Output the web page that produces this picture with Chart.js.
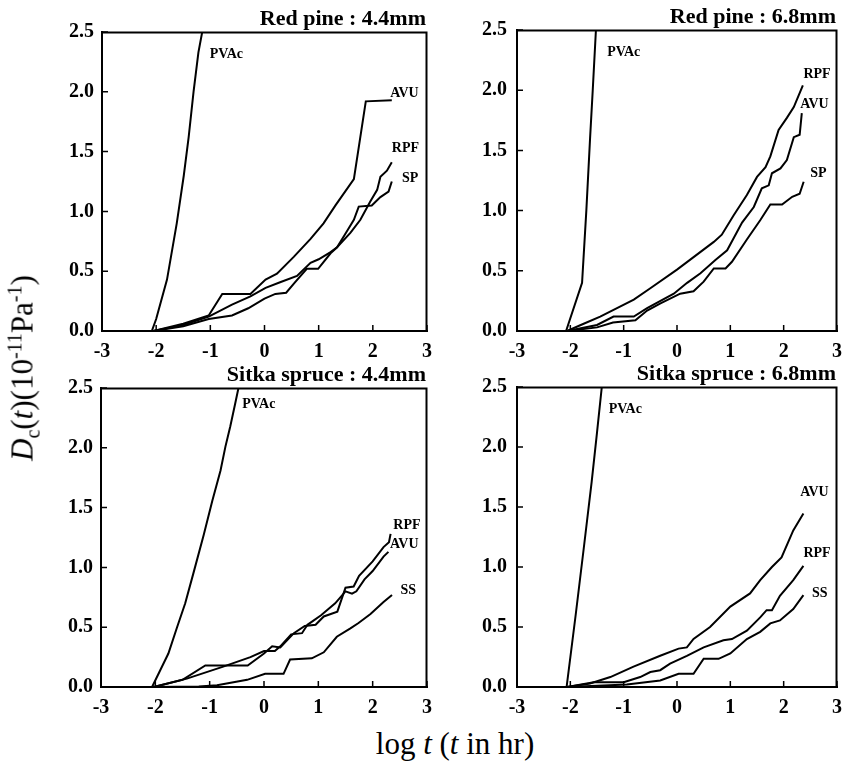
<!DOCTYPE html>
<html>
<head>
<meta charset="utf-8">
<script src="https://cdn.jsdelivr.net/npm/chart.js@4.4.0/dist/chart.umd.min.js"></script>
<style>
  html, body { margin: 0; padding: 0; background: #fff; }
  #page { position: relative; width: 845px; height: 768px; overflow: hidden; }
  canvas { position: absolute; }
  .axis-title { position: absolute; font-family: "Liberation Serif", "Times New Roman", serif; font-size: 31px; color: #000; white-space: nowrap; line-height: 1; }
  .axis-title sub, .axis-title sup { font-size: 20px; line-height: 0; }
</style>
</head>
<body>
<div id="page">
  <canvas id="p1" width="400" height="362" style="left:40px;top:0px"></canvas>
  <canvas id="p2" width="390" height="362" style="left:455px;top:0px"></canvas>
  <canvas id="p3" width="400" height="360" style="left:40px;top:360px"></canvas>
  <canvas id="p4" width="390" height="360" style="left:455px;top:360px"></canvas>
  <div class="axis-title" id="ytitle" style="left:22px;top:368px;transform:translate(-50%,-50%) rotate(-90deg)"><i>D</i><sub>c</sub>(<i>t</i>)(10<sup>-11</sup>Pa<sup>-1</sup>)</div>
  <div class="axis-title" style="left:455px;top:743px;transform:translate(-50%,-50%)">log <i>t</i> (<i>t</i> in hr)</div>
</div>
<script>
// ---- axis ticks ----
const xTicks = [-3, -2, -1, 0, 1, 2, 3];
const yTicks = [0, 0.5, 1.0, 1.5, 2.0, 2.5];

// ---- Red pine : 4.4mm  ([log t, Dc]) ----
const rp44Pvac = [[-2.08,0],[-2.0,0.1],[-1.8,0.43],[-1.62,0.9],[-1.49,1.3],[-1.40,1.62],[-1.31,2.0],[-1.22,2.33],[-1.15,2.5]];
const rp44Avu = [[-2.05,0],[-1.5,0.06],[-1.03,0.13],[-0.78,0.31],[-0.26,0.31],[0.02,0.43],[0.23,0.48],[0.54,0.62],[0.85,0.77],[1.09,0.90],[1.31,1.05],[1.65,1.27],[1.87,1.92],[2.35,1.93]];
const rp44Rpf = [[-2.05,0],[-1.5,0.05],[-1.03,0.12],[-0.6,0.22],[-0.26,0.29],[0.02,0.36],[0.3,0.41],[0.6,0.46],[0.85,0.57],[1.0,0.60],[1.22,0.66],[1.34,0.70],[1.585,0.82],[1.77,0.93],[1.95,1.08],[2.08,1.18],[2.14,1.29],[2.26,1.34],[2.35,1.41]];
const rp44Sp = [[-2.05,0],[-1.5,0.04],[-1.03,0.10],[-0.6,0.13],[-0.3,0.19],[0,0.27],[0.2,0.31],[0.4,0.32],[0.55,0.40],[0.78,0.52],[0.99,0.52],[1.22,0.65],[1.34,0.70],[1.53,0.84],[1.65,0.93],[1.74,1.04],[1.98,1.05],[2.14,1.12],[2.29,1.165],[2.35,1.25]];

// ---- Red pine : 6.8mm ----
const rp68Pvac = [[-2.08,0],[-1.78,0.40],[-1.70,1.0],[-1.63,1.6],[-1.58,2.0],[-1.52,2.5]];
const rp68Rpf = [[-2.06,0],[-1.75,0.06],[-1.44,0.12],[-0.81,0.26],[-0.5,0.355],[0,0.51],[0.69,0.74],[0.84,0.80],[1.06,0.96],[1.31,1.13],[1.50,1.28],[1.66,1.36],[1.75,1.45],[1.905,1.67],[2.06,1.77],[2.19,1.86],[2.36,2.04]];
const rp68Avu = [[-2.06,0],[-1.5,0.05],[-1.19,0.12],[-0.81,0.12],[-0.56,0.19],[-0.06,0.31],[0.19,0.40],[0.44,0.48],[0.72,0.59],[0.94,0.67],[1.22,0.90],[1.44,1.03],[1.59,1.185],[1.72,1.21],[1.78,1.31],[1.94,1.35],[2.06,1.42],[2.19,1.61],[2.30,1.63],[2.34,1.81]];
const rp68Sp = [[-2.06,0],[-1.5,0.03],[-1.2,0.07],[-0.78,0.09],[-0.56,0.17],[-0.31,0.23],[0.06,0.31],[0.31,0.33],[0.50,0.41],[0.69,0.52],[0.91,0.52],[1.03,0.575],[1.31,0.76],[1.56,0.92],[1.75,1.05],[1.97,1.05],[2.16,1.115],[2.30,1.14],[2.375,1.24]];

// ---- Sitka spruce : 4.4mm ----
const ss44Pvac = [[-2.06,0],[-1.91,0.14],[-1.76,0.28],[-1.60,0.50],[-1.45,0.70],[-1.30,0.95],[-1.11,1.27],[-0.95,1.56],[-0.80,1.81],[-0.71,2.01],[-0.62,2.18],[-0.53,2.37],[-0.47,2.5]];
const ss44Rpf = [[-2.03,0],[-1.5,0.06],[-1.08,0.18],[-0.3,0.18],[0,0.28],[0.15,0.34],[0.3,0.33],[0.55,0.45],[0.75,0.51],[0.95,0.52],[1.1,0.59],[1.35,0.63],[1.5,0.83],[1.65,0.84],[1.75,0.93],[2.0,1.05],[2.2,1.17],[2.3,1.21],[2.33,1.28]];
const ss44Avu = [[-2.03,0],[-1.42,0.07],[-0.75,0.17],[-0.25,0.25],[0,0.30],[0.2,0.30],[0.3,0.34],[0.5,0.44],[0.7,0.45],[0.8,0.52],[1.05,0.60],[1.31,0.70],[1.5,0.80],[1.62,0.78],[1.7,0.80],[1.85,0.90],[2.0,0.97],[2.2,1.09],[2.29,1.13]];
const ss44Ss = [[-2.03,0],[-1.2,0.005],[-0.865,0.014],[-0.31,0.06],[0.02,0.11],[0.36,0.11],[0.48,0.23],[0.88,0.24],[1.10,0.29],[1.34,0.42],[1.59,0.49],[1.74,0.535],[1.96,0.61],[2.20,0.71],[2.356,0.77]];

// ---- Sitka spruce : 6.8mm ----
const ss68Pvac = [[-2.07,0],[-1.9,0.6],[-1.75,1.15],[-1.6,1.71],[-1.5,2.12],[-1.41,2.5]];
const ss68Avu = [[-2.06,0],[-1.63,0.03],[-1.25,0.083],[-0.815,0.17],[-0.315,0.26],[0.03,0.32],[0.185,0.33],[0.31,0.40],[0.62,0.50],[1.0,0.67],[1.37,0.78],[1.56,0.89],[1.78,1.0],[1.96,1.08],[2.18,1.305],[2.37,1.445]];
const ss68Rpf = [[-2.06,0],[-1.56,0.04],[-1.0,0.04],[-0.69,0.083],[-0.5,0.125],[-0.315,0.14],[-0.13,0.195],[0.185,0.26],[0.50,0.33],[0.87,0.39],[1.03,0.40],[1.31,0.47],[1.56,0.58],[1.68,0.64],[1.78,0.64],[1.93,0.76],[2.18,0.89],[2.37,1.01]];
const ss68Ss = [[-2.06,0],[-0.94,0.02],[-0.315,0.055],[0.03,0.11],[0.31,0.11],[0.50,0.235],[0.78,0.235],[1.0,0.28],[1.31,0.40],[1.56,0.46],[1.75,0.53],[1.93,0.555],[2.18,0.65],[2.37,0.765]];

const SERIF = '"Liberation Serif", "Times New Roman", Times, serif';

// draws the box, the inward tick marks, the panel title and the curve names
const panelDecor = {
  id: 'panelDecor',
  afterDraw(chart, args, opts) {
    const ctx = chart.ctx;
    const a = chart.chartArea;
    const xs = chart.scales.x, ys = chart.scales.y;
    ctx.save();
    ctx.strokeStyle = '#000';
    ctx.lineWidth = 2;
    ctx.beginPath();
    ctx.moveTo(Math.round(a.left), Math.round(a.top) + 0.5);
    ctx.lineTo(Math.round(a.right) - 0.5, Math.round(a.top) + 0.5);
    ctx.lineTo(Math.round(a.right) - 0.5, Math.round(a.bottom));
    ctx.stroke();

    // small inward ticks
    ctx.lineWidth = 1.5;
    ctx.beginPath();
    xTicks.forEach(v => {
      const px = xs.getPixelForValue(v);
      ctx.moveTo(px, a.bottom);
      ctx.lineTo(px, a.bottom - 6);
    });
    yTicks.forEach(v => {
      const py = ys.getPixelForValue(v);
      ctx.moveTo(a.left, py);
      ctx.lineTo(a.left + 6, py);
    });
    ctx.stroke();

    ctx.fillStyle = '#000';
    ctx.font = 'bold 22px ' + SERIF;
    ctx.textAlign = 'right';
    ctx.textBaseline = 'alphabetic';
    ctx.fillText(opts.title, a.right - 1, a.top - 7);

    ctx.font = 'bold 14px ' + SERIF;
    ctx.textAlign = 'left';
    ctx.textBaseline = 'middle';
    opts.labels.forEach(l => {
      ctx.fillText(l.text, xs.getPixelForValue(l.x), ys.getPixelForValue(l.y));
    });
    ctx.restore();
  }
};

function toPoints(arr) {
  return arr.map(p => ({ x: p[0], y: p[1] }));
}

// no extra room for half tick labels: chart area comes only from the paddings below
function noScalePadding(s) {
  s.paddingLeft = 0;
  s.paddingRight = 0;
  s.paddingTop = 0;
  s.paddingBottom = 0;
}

function makePanel(id, o) {
  new Chart(document.getElementById(id), {
    type: 'line',
    data: {
      datasets: o.series.map(s => ({
        data: toPoints(s),
        borderColor: '#000',
        borderWidth: 2,
        pointRadius: 0,
        tension: 0,
        fill: false
      }))
    },
    options: {
      responsive: false,
      animation: false,
      devicePixelRatio: 1,
      layout: { padding: { top: o.top, right: o.right, left: 0, bottom: 0 } },
      plugins: {
        legend: { display: false },
        tooltip: { enabled: false },
        panelDecor: { title: o.title, labels: o.labels }
      },
      scales: {
        x: {
          type: 'linear',
          min: xTicks[0],
          max: xTicks[xTicks.length - 1],
          afterBuildTicks: s => { s.ticks = xTicks.map(v => ({ value: v })); },
          afterFit: s => { s.height = o.xh; noScalePadding(s); },
          ticks: {
            color: '#000',
            padding: 9,
            maxRotation: 0,
            font: { family: SERIF, size: 20, weight: 'bold' },
            callback: v => String(v)
          },
          grid: { display: false, drawTicks: false },
          border: { color: '#000', width: 2 }
        },
        y: {
          min: yTicks[0],
          max: yTicks[yTicks.length - 1],
          afterBuildTicks: s => { s.ticks = yTicks.map(v => ({ value: v })); },
          afterFit: s => { s.width = o.yw; noScalePadding(s); },
          ticks: {
            color: '#000',
            padding: o.ypad,
            font: { family: SERIF, size: 20, weight: 'bold' },
            callback: v => Number(v).toFixed(1)
          },
          grid: { display: false, drawTicks: false },
          border: { color: '#000', width: 2 }
        }
      }
    },
    plugins: [panelDecor]
  });
}

makePanel('p1', {
  title: 'Red pine : 4.4mm',
  series: [rp44Pvac, rp44Avu, rp44Rpf, rp44Sp],
  labels: [
    { text: 'PVAc', x: -1.01, y: 2.31 },
    { text: 'AVU', x: 2.32, y: 1.99 },
    { text: 'RPF', x: 2.35, y: 1.53 },
    { text: 'SP', x: 2.54, y: 1.28 }
  ],
  top: 32, right: 13, yw: 62, xh: 31, ypad: 8
});

makePanel('p2', {
  title: 'Red pine : 6.8mm',
  series: [rp68Pvac, rp68Rpf, rp68Avu, rp68Sp],
  labels: [
    { text: 'PVAc', x: -1.31, y: 2.31 },
    { text: 'RPF', x: 2.37, y: 2.13 },
    { text: 'AVU', x: 2.31, y: 1.88 },
    { text: 'SP', x: 2.50, y: 1.31 }
  ],
  top: 30, right: 8, yw: 62, xh: 31, ypad: 10
});

makePanel('p3', {
  title: 'Sitka spruce : 4.4mm',
  series: [ss44Pvac, ss44Rpf, ss44Avu, ss44Ss],
  labels: [
    { text: 'PVAc', x: -0.40, y: 2.36 },
    { text: 'RPF', x: 2.38, y: 1.35 },
    { text: 'AVU', x: 2.32, y: 1.19 },
    { text: 'SS', x: 2.51, y: 0.81 }
  ],
  top: 28, right: 13, yw: 61, xh: 33, ypad: 8
});

makePanel('p4', {
  title: 'Sitka spruce : 6.8mm',
  series: [ss68Pvac, ss68Avu, ss68Rpf, ss68Ss],
  labels: [
    { text: 'PVAc', x: -1.28, y: 2.31 },
    { text: 'AVU', x: 2.31, y: 1.62 },
    { text: 'RPF', x: 2.37, y: 1.11 },
    { text: 'SS', x: 2.53, y: 0.78 }
  ],
  top: 27, right: 8, yw: 62, xh: 33, ypad: 10
});
</script>
</body>
</html>
